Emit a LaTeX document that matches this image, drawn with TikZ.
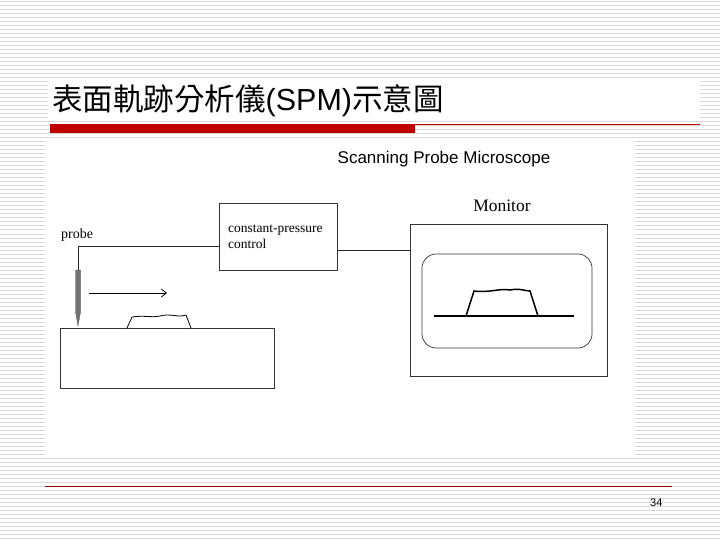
\documentclass[tikz,border=0pt]{standalone}
\usepackage{fontspec}
\usetikzlibrary{arrows.meta}
\setmainfont{Liberation Serif}
\newfontfamily\cjk{Noto Sans CJK TC}
\newfontfamily\arialf{Liberation Sans}
\begin{document}
\begin{tikzpicture}[x=1pt,y=-1pt,
  box/.style={draw=black!80,line width=0.8pt},
  lab/.style={inner sep=0pt,anchor=base west}]
\useasboundingbox (0,0) rectangle (720,540);
\fill[white] (0,0) rectangle (720,540);
\foreach \y in {2,6,...,538} \draw[black!15,line width=1pt] (0,\y) -- (720,\y);
\fill[white] (48,78) rectangle (700,121);
\fill[white] (45,138) rectangle (635,455);
% title
\node[lab] (title) at (52,111) {\cjk\fontsize{30.5}{32}\selectfont 表面軌跡分析儀\arialf(SPM)\cjk 示意圖};
\fill[red!75!black] (50,124) rectangle (415,133);
\draw[red!75!black,line width=1pt] (415,124.5) -- (700,124.5);
\draw[red!60!black,line width=1pt] (45,486) -- (672,486);
\node[lab] (pg) at (650,506) {\arialf\fontsize{11}{12}\selectfont 34};
% diagram
\node[inner sep=0pt] (spm) at (444,159) {\arialf\fontsize{17}{18}\selectfont Scanning Probe Microscope};
\draw[box] (219,203) rectangle (337,270);
\coordinate (ctlL) at (219,246);
\coordinate (ctlR) at (337,250);
\node[lab,align=left,font=\fontsize{13.5}{16}\selectfont] (ctl) at (228,248) {constant-pressure\\control};
\node[lab] (probe) at (61,239) {\fontsize{14}{15}\selectfont probe};
\coordinate (pt) at (78,246);
\draw[black!85,line width=0.8pt] (ctlL) -- (pt) -- (78,271);
\fill[black!55,draw=black!70,line width=0.3pt] (75.5,270) -- (80.5,270) -- (80.5,312) -- (78,326) -- (75.5,312) -- cycle;
\draw[-{Straight Barb[length=5pt,width=8pt]},line width=0.8pt] (89,293) -- (167,293);
\draw[box] (60,328) rectangle (274,388);
\draw[line width=0.8pt] (127,328) -- (132,317) .. controls (145,315) and (150,318) .. (160,316) .. controls (170,313) and (178,318) .. (186,315) -- (191,328);
\draw[box] (410,224) rectangle (607,376);
\node[inner sep=0pt] (mon) at (502,206) {\fontsize{17.5}{18}\selectfont Monitor};
\draw[black!85,line width=0.8pt] (ctlR) -- (410,250);
\draw[black!80,line width=0.7pt,rounded corners=14pt] (422,254) rectangle (592,348);
\draw[line width=1.6pt] (434,316) -- (574,316);
\draw[line width=1.5pt] (466,316) -- (474,291) .. controls (490,293) and (500,288) .. (510,290) .. controls (520,288) and (525,291) .. (530,291) -- (538,316);
\end{tikzpicture}
\end{document}
